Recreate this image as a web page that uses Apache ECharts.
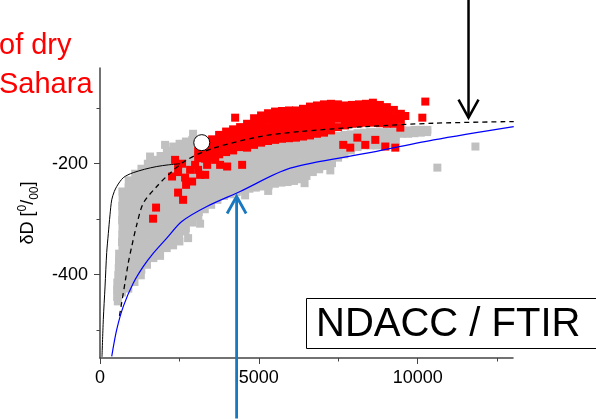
<!DOCTYPE html>
<html>
<head>
<meta charset="utf-8">
<script src="https://cdn.jsdelivr.net/npm/echarts@6/dist/echarts.min.js"></script>
<style>
  html, body { margin: 0; padding: 0; background: #fff; }
  #chart { width: 596px; height: 419px; }
</style>
</head>
<body>
<div id="chart"></div>
<script>
// ---- axes ----
const xMin = 0, xMax = 13000;
const yMin = -550, yMax = -27.5;
const xMajorTicks = [0, 5000, 10000];
const xMinorTicks = [2500, 7500, 12500];
const yMajorTicks = [-400, -200];
const yMinorTicks = [-500, -300, -100];

// ---- grey measurements (humidity vs deltaD), left part of the cloud ----
const grayLeft = [
  [602,-362],[598,-375],[590,-388],[575,-401],[545,-414],[538,-427],[541,-440],[560,-448],
  [705,-250],[712,-263],[698,-276],[703,-289],[695,-302],[708,-315],[700,-328],[693,-341],[706,-354],[699,-367],[702,-380],[694,-393],[707,-406],[700,-419],[690,-432],
  [905,-230],[898,-243],[910,-256],[895,-269],[903,-282],[900,-295],[908,-308],[896,-321],[902,-334],[899,-347],[906,-360],[894,-373],[901,-386],[897,-399],[904,-412],[890,-425],
  [1108,-218],[1096,-231],[1102,-244],[1095,-257],[1105,-270],[1099,-283],[1110,-296],[1094,-309],[1103,-322],[1097,-335],[1106,-348],[1100,-361],[1092,-374],[1104,-387],[1098,-400],[1085,-413],
  [1305,-209],[1296,-222],[1310,-235],[1298,-248],[1302,-261],[1295,-274],[1308,-287],[1300,-300],[1292,-313],[1306,-326],[1299,-339],[1303,-352],[1296,-365],[1290,-378],[1301,-391],[1285,-401],
  [1505,-200],[1497,-213],[1510,-226],[1494,-239],[1502,-252],[1499,-265],[1507,-278],[1493,-291],[1504,-304],[1498,-317],[1509,-330],[1495,-343],[1501,-356],[1490,-369],[1480,-382],
  [1576,-187]
];

// ---- grey measurements, middle part ----
const grayMid = [
  [1705,-193],[1698,-206],[1710,-219],[1694,-232],[1702,-245],[1699,-258],[1707,-271],[1693,-284],[1704,-297],[1698,-310],[1709,-323],[1695,-336],[1701,-349],[1690,-362],[1680,-370],
  [1905,-186],[1897,-199],[1910,-212],[1894,-225],[1902,-238],[1899,-251],[1907,-264],[1893,-277],[1904,-290],[1898,-303],[1909,-316],[1895,-329],[1901,-342],[1890,-355],[1891,-366],
  [2105,-177],[2097,-190],[2110,-203],[2094,-216],[2102,-229],[2099,-242],[2107,-255],[2093,-268],[2104,-281],[2098,-294],[2109,-307],[2095,-320],[2101,-333],[2092,-346],[2100,-352],
  [2048,-166],
  [2305,-169],[2297,-182],[2310,-195],[2294,-208],[2302,-221],[2299,-234],[2307,-247],[2293,-260],[2304,-273],[2298,-286],[2309,-299],[2295,-312],[2301,-325],[2292,-338],[2300,-347],
  [2505,-164],[2497,-177],[2510,-190],[2494,-203],[2502,-216],[2499,-229],[2507,-242],[2493,-255],[2504,-268],[2498,-281],[2509,-294],[2495,-307],[2501,-320],[2492,-333],[2500,-340],
  [2705,-160],[2697,-173],[2710,-186],[2694,-199],[2702,-212],[2699,-225],[2707,-238],[2693,-251],[2704,-264],[2698,-277],[2709,-290],[2695,-303],[2701,-316],[2690,-322],[2773,-334],
  [2905,-157],[2897,-170],[2910,-183],[2894,-196],[2902,-209],[2899,-222],[2907,-235],[2893,-248],[2904,-261],[2898,-274],[2909,-287],[2895,-300],[2901,-306],
  [2930,-146],
  [3105,-157],[3097,-170],[3110,-183],[3094,-196],[3102,-209],[3099,-222],[3107,-235],[3093,-248],[3104,-261],[3098,-274],[3109,-287],[3095,-295],[3151,-308],
  [3305,-165],[3297,-178],[3310,-191],[3294,-204],[3302,-217],[3299,-230],[3307,-243],[3293,-256],[3304,-269],[3298,-282],
  [3505,-175],[3497,-188],[3510,-201],[3494,-214],[3502,-227],[3499,-240],[3507,-253],[3493,-266],[3500,-274],
  [3705,-180],[3697,-193],[3710,-206],[3694,-219],[3702,-232],[3699,-245],[3707,-258],[3695,-265],
  [3905,-183],[3897,-196],[3910,-209],[3894,-222],[3902,-235],[3899,-248],[3905,-258]
];

// ---- grey measurements, moist right part ----
const grayRight = [
  [4105,-180],[4097,-193],[4110,-206],[4094,-219],[4102,-232],[4099,-245],[4106,-255],
  [4305,-178],[4297,-191],[4310,-204],[4294,-217],[4302,-230],[4299,-243],[4304,-251],
  [4505,-176],[4497,-189],[4510,-202],[4494,-215],[4502,-228],[4499,-241],[4506,-248],[4569,-257],
  [4705,-174],[4697,-187],[4710,-200],[4694,-213],[4702,-226],[4699,-238],[4703,-245],
  [4905,-172],[4897,-185],[4910,-198],[4894,-211],[4902,-224],[4899,-236],[4906,-243],
  [5105,-170],[5097,-183],[5110,-196],[5094,-209],[5102,-222],[5099,-234],[5104,-241],
  [5305,-168],[5297,-181],[5310,-194],[5294,-207],[5302,-220],[5299,-232],[5306,-239],[5294,-249],
  [5505,-166],[5497,-179],[5510,-192],[5494,-205],[5502,-218],[5499,-230],[5504,-236],
  [5705,-164],[5697,-177],[5710,-190],[5694,-203],[5702,-216],[5699,-228],[5706,-234],
  [5905,-163],[5897,-176],[5910,-189],[5894,-202],[5902,-215],[5899,-227],[5904,-233],
  [6105,-162],[6097,-175],[6110,-188],[6094,-201],[6102,-214],[6099,-226],[6106,-231],
  [6305,-160],[6297,-173],[6310,-186],[6294,-199],[6302,-212],[6299,-224],[6304,-228],
  [6505,-158],[6497,-171],[6510,-184],[6494,-197],[6502,-210],[6499,-222],[6440,-235],
  [6705,-157],[6697,-170],[6710,-183],[6694,-196],[6702,-209],[6699,-215],
  [6905,-155],[6897,-168],[6910,-181],[6894,-194],[6902,-206],[6899,-210],
  [7105,-153],[7097,-166],[7110,-179],[7094,-192],[7102,-204],
  [7305,-152],[7297,-165],[7310,-178],[7294,-190],[7302,-199],[7250,-212],
  [7505,-150],[7497,-163],[7510,-176],[7494,-189],
  [7705,-148],[7697,-161],[7710,-174],[7694,-183],
  [7905,-147],[7897,-160],[7910,-172],[7894,-176],
  [8105,-145],[8097,-158],[8110,-170],
  [8305,-144],[8297,-157],[8310,-167],
  [8505,-143],[8497,-156],[8510,-167],
  [8705,-143],[8697,-156],[8710,-167],
  [8905,-143],[8897,-156],[8910,-166],
  [9105,-143],[9097,-155],[9110,-163],
  [9305,-143],[9297,-152],[9310,-158],
  [9505,-140],[9497,-146],
  [9705,-140],[9697,-146],
  [9905,-139],[9897,-145],
  [10105,-139],[10097,-144],
  [10305,-139],[10297,-143],
  [10619,-207],[11817,-169]
];

// ---- red measurements (dry Saharan air), main band ----
const redBand = [
  [3090,-177],[3090,-190],
  [3310,-165],[3310,-178],[3310,-191],
  [3530,-156],[3530,-169],[3530,-182],[3530,-189],
  [3750,-148],[3750,-160],[3750,-172],[3750,-183],
  [3970,-142],[3970,-154],[3970,-166],[3970,-179],
  [4190,-138],[4190,-150],[4190,-163],[4190,-176],
  [4410,-134],[4410,-146],[4410,-158],[4410,-170],
  [4630,-128],[4630,-140],[4630,-152],[4630,-164],[4630,-171],
  [4850,-118],[4850,-130],[4850,-142],[4850,-154],[4850,-166],
  [5070,-113],[5070,-125],[5070,-137],[5070,-149],[5070,-162],
  [5290,-109],[5290,-121],[5290,-134],[5290,-147],[5290,-159],
  [5510,-106],[5510,-119],[5510,-132],[5510,-145],[5510,-157],
  [5730,-105],[5730,-118],[5730,-131],[5730,-143],[5730,-155],
  [5950,-104],[5950,-117],[5950,-130],[5950,-142],[5950,-154],
  [6170,-104],[6170,-116],[6170,-129],[6170,-141],[6170,-153],
  [6390,-101],[6390,-113],[6390,-126],[6390,-139],[6390,-151],
  [6610,-97],[6610,-110],[6610,-123],[6610,-136],[6610,-149],
  [6830,-95],[6830,-107],[6830,-120],[6830,-133],[6830,-146],
  [7050,-93],[7050,-106],[7050,-119],[7050,-132],[7050,-144],
  [7270,-92],[7270,-105],[7270,-117],[7270,-129],[7270,-140],
  [7490,-93],[7490,-106],[7490,-119],[7490,-134],
  [7710,-95],[7710,-108],[7710,-120],[7710,-131],
  [7930,-94],[7930,-106],[7930,-118],[7930,-128],
  [8150,-93],[8150,-105],[8150,-117],[8150,-127],
  [8370,-92],[8370,-104],[8370,-115],[8370,-126],
  [8590,-90],[8590,-102],[8590,-114],[8590,-126],
  [8810,-94],[8810,-106],[8810,-117],[8810,-127],
  [9030,-98],[9030,-110],[9030,-121],[9030,-128],
  [9250,-103],[9250,-116],[9250,-128],
  [9470,-110],[9470,-121],
  [9610,-114]
];

// ---- red measurements, scattered ones ----
const redScattered = [
  [1670,-299],[1765,-279],[2269,-223],[2363,-193],[2458,-202],[2458,-252],[2584,-200],
  [2615,-265],[2678,-225],[2900,-232],[3088,-211],[3151,-220],[3372,-202],[4002,-205],
  [2836,-211],[2993,-202],[2710,-238],[2458,-215],[3309,-220],[3624,-193],[3781,-202],
  [4474,-202],[4254,-117],[7656,-166],[7878,-171],[8100,-153],[8350,-166],[8665,-157],
  [8980,-169],[9295,-171],[9453,-135],[10240,-88],[10146,-117]
];

// ---- model curves ----
const mixingCurve = [
  [63,-548],[104,-481],[158,-422],[211,-360],[262,-326],[315,-292],[369,-265],[450,-250],[526,-241],
  [630,-232],[734,-225],[880,-220],[1049,-216],[1400,-210],[1787,-205],[2150,-202],[2521,-200]
];
const dashedCurve = [
  [614,-474],[684,-450],[788,-414],[892,-378],[999,-349],[1156,-310],[1364,-271],
  [1787,-241],[2206,-217],[2732,-193],[3570,-172],[5042,-151],[6302,-142],
  [8403,-133],[10502,-127],[13023,-124]
];
const blueCurve = [
  [369,-547],[526,-499],[734,-457],[1049,-415],[1364,-385],[1680,-361],[2101,-334],
  [2574,-304],[3362,-277],[4411,-250],[5987,-208],[8403,-181],[10502,-157],[13023,-133]
];
const openCircle = [[3203,-162]];

// ---- annotation arrows (data units: x, y of tail, y of tip) ----
const arrowDown = { x: 11600, tail: 95, tip: -117 };
const arrowUp = { x: 4300, tail: -659, tip: -259 };

const FONT = '"Liberation Sans", Arial, sans-serif';
const AXIS_COLOR = '#444';

const chart = echarts.init(document.getElementById('chart'), null, { renderer: 'canvas' });

const axisCommon = {
  type: 'value',
  splitLine: { show: false },
  axisLine: { show: true, onZero: false, lineStyle: { color: AXIS_COLOR, width: 1.5 } },
  axisTick: { show: true, inside: false, lineStyle: { color: AXIS_COLOR, width: 1 } },
  axisLabel: { color: '#000', fontSize: 18, fontFamily: FONT, formatter: v => String(v) }
};

chart.setOption({
  animation: false,
  backgroundColor: '#fff',
  grid: { left: 100, right: 83, top: 68, bottom: 61, containLabel: false },
  xAxis: [
    Object.assign({}, axisCommon, {
      min: xMin, max: xMax, position: 'bottom',
      axisTick: Object.assign({}, axisCommon.axisTick, { customValues: xMajorTicks, length: 6 }),
      axisLabel: Object.assign({}, axisCommon.axisLabel, { customValues: xMajorTicks, margin: 11 })
    }),
    {
      type: 'value', min: xMin, max: xMax, position: 'bottom',
      splitLine: { show: false }, axisLine: { show: false },
      axisTick: { show: true, customValues: xMinorTicks, length: 3.5, lineStyle: { color: AXIS_COLOR, width: 1 } },
      axisLabel: { show: false }
    }
  ],
  yAxis: [
    Object.assign({}, axisCommon, {
      min: yMin, max: yMax, position: 'left',
      axisTick: Object.assign({}, axisCommon.axisTick, { customValues: yMajorTicks, length: 6 }),
      axisLabel: Object.assign({}, axisCommon.axisLabel, { customValues: yMajorTicks, margin: 12 })
    }),
    {
      type: 'value', min: yMin, max: yMax, position: 'left',
      splitLine: { show: false }, axisLine: { show: false },
      axisTick: { show: true, customValues: yMinorTicks, length: 3.5, lineStyle: { color: AXIS_COLOR, width: 1 } },
      axisLabel: { show: false }
    }
  ],
  series: [
    {
      type: 'scatter', name: 'all', silent: true, z: 2,
      symbol: 'rect', symbolSize: 8,
      itemStyle: { color: '#c0c0c0', opacity: 1 },
      data: grayLeft.concat(grayMid, grayRight)
    },
    {
      type: 'scatter', name: 'dry Sahara', silent: true, z: 3,
      symbol: 'rect', symbolSize: 8,
      itemStyle: { color: '#ff0000', opacity: 1 },
      data: redBand.concat(redScattered)
    },
    {
      type: 'line', silent: true, z: 4, symbol: 'none', smooth: 0.3,
      lineStyle: { color: '#000', width: 1 },
      data: mixingCurve
    },
    {
      type: 'line', silent: true, z: 4, symbol: 'none', smooth: 0.3,
      lineStyle: { color: '#000', width: 1.3, type: [5, 4] },
      data: dashedCurve
    },
    {
      type: 'line', silent: true, z: 4, symbol: 'none', smooth: 0.3,
      lineStyle: { color: '#0000ff', width: 1.2 },
      data: blueCurve
    },
    {
      type: 'scatter', silent: true, z: 5,
      symbol: 'circle', symbolSize: 16,
      itemStyle: { color: '#fff', borderColor: '#000', borderWidth: 1, opacity: 1 },
      data: openCircle
    }
  ]
});

// Arrows and text annotations, placed through the axes' own scales
function px(pt) { return chart.convertToPixel({ gridIndex: 0 }, pt); }

function arrowGraphic(a, color, width, wingDx, wingDy, dir) {
  const tail = px([a.x, a.tail]);
  const tip = px([a.x, a.tip]);
  return [
    { type: 'line', silent: true, z: 100,
      shape: { x1: tail[0], y1: tail[1], x2: tip[0], y2: tip[1] },
      style: { stroke: color, lineWidth: width } },
    { type: 'polyline', silent: true, z: 100,
      shape: { points: [[tip[0] - wingDx, tip[1] - dir * wingDy], [tip[0], tip[1]], [tip[0] + wingDx, tip[1] - dir * wingDy]] },
      style: { stroke: color, lineWidth: width, fill: null } }
  ];
}

chart.setOption({
  graphic: [].concat(
    arrowGraphic(arrowDown, '#000', 2.5, 10, 18, 1),
    arrowGraphic(arrowUp, '#1878c0', 2.8, 9.5, 17, -1),
    [
      { type: 'text', silent: true, z: 100, x: -1, y: 46,
        style: { text: 'of dry', fill: '#ff0000', font: '29px ' + FONT, align: 'left', verticalAlign: 'middle' } },
      { type: 'text', silent: true, z: 100, x: -1, y: 85,
        style: { text: 'Sahara', fill: '#ff0000', font: '29px ' + FONT, align: 'left', verticalAlign: 'middle' } },
      { type: 'rect', silent: true, z: 100,
        shape: { x: 306.5, y: 298.5, width: 300, height: 50 },
        style: { fill: '#fff', stroke: '#000', lineWidth: 1 } },
      { type: 'text', silent: true, z: 101, x: 316, y: 324.5,
        style: { text: 'NDACC / FTIR', fill: '#000', font: '40px ' + FONT, align: 'left', verticalAlign: 'middle' } },
      { type: 'text', silent: true, z: 100, x: 28.5, y: 213, rotation: Math.PI / 2,
        style: {
          text: '{m|δD [}{sup|0}{m|/}{sub|00}{m|]}',
          align: 'center', verticalAlign: 'middle',
          rich: {
            m: { fontSize: 18, fontFamily: FONT, fill: '#000', lineHeight: 24, verticalAlign: 'middle' },
            sup: { fontSize: 12, fontFamily: FONT, fill: '#000', lineHeight: 24, verticalAlign: 'top' },
            sub: { fontSize: 12, fontFamily: FONT, fill: '#000', lineHeight: 24, verticalAlign: 'bottom' }
          }
        } }
    ]
  )
});
</script>
</body>
</html>
